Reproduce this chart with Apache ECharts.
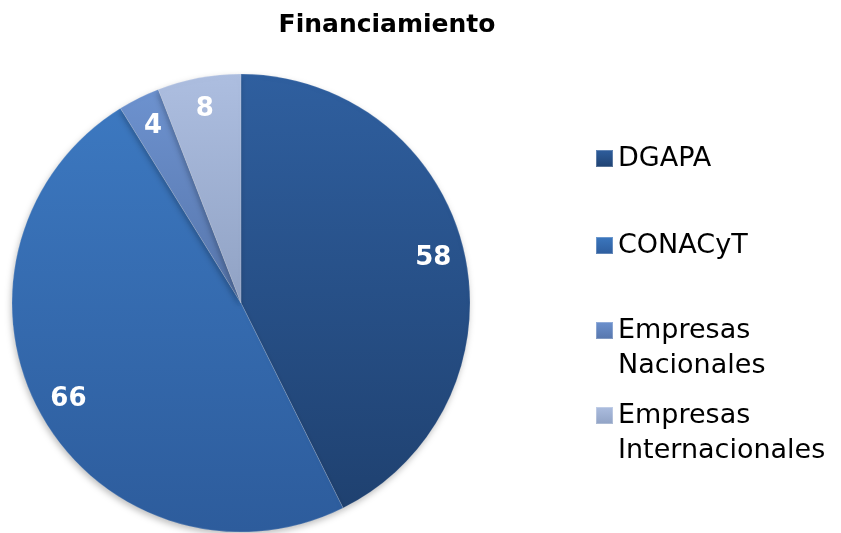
<!DOCTYPE html>
<html>
<head>
<meta charset="utf-8">
<script src="https://cdn.jsdelivr.net/npm/echarts@6/dist/echarts.min.js"></script>
<style>
  html, body { margin: 0; padding: 0; background: #fff; }
  #main { width: 841px; height: 533px; }
</style>
</head>
<body>
<div id="main"></div>
<script>
// datos
const categorias = ['DGAPA', 'CONACyT', 'Empresas Nacionales', 'Empresas Internacionales'];
const etiquetas = ['DGAPA', 'CONACyT', '\nEmpresas\nNacionales', '\nEmpresas\nInternacionales'];
const valores = [58, 66, 4, 8];

// degradados de cada sector (arriba claro, abajo oscuro)
const colores = [
  ['#2f5f9f', '#1f4170'],
  ['#3c78c0', '#2d5c9c'],
  ['#6d92cf', '#5675ab'],
  ['#adbee0', '#90a2c4']
];

function grad (c) {
  return new echarts.graphic.LinearGradient(0, 0, 0, 1, [
    { offset: 0, color: c[0] },
    { offset: 1, color: c[1] }
  ]);
}

const chart = echarts.init(document.getElementById('main'));

const legendTops = [141, 228, 278, 363];
const FONT = 'DejaVu Sans';

const legends = categorias.map((name, i) => ({
  data: [name],
  left: 595,
  top: legendTops[i],
  padding: 0,
  itemWidth: 17,
  itemHeight: 17,
  icon: 'rect',
  selectedMode: false,
  formatter: () => etiquetas[i],
  textStyle: {
    fontFamily: FONT,
    fontSize: 27,
    color: '#000',
    lineHeight: 35
  }
}));

const datos = categorias.map((name, i) => ({
  name: name,
  value: valores[i],
  itemStyle: { color: grad(colores[i]) }
}));

chart.setOption({
  animation: false,
  title: {
    text: 'Financiamiento',
    left: 382,
    top: 8,
    textAlign: 'center',
    textStyle: {
      fontFamily: FONT,
      fontWeight: 'bold',
      fontSize: 25,
      color: '#000'
    }
  },
  legend: legends,
  series: [
    {
      type: 'pie',
      center: [241, 303],
      radius: [0, 229],
      startAngle: 90,
      clockwise: true,
      label: { show: false },
      labelLine: { show: false },
      emphasis: { disabled: true },
      itemStyle: {
        borderColor: 'rgba(255,255,255,0.25)',
        borderWidth: 0.6,
        shadowBlur: 6,
        shadowOffsetX: -1,
        shadowOffsetY: 3,
        shadowColor: 'rgba(0,0,0,0.25)'
      },
      data: datos
    },
    {
      // serie invisible solo para colocar las etiquetas cerca del borde
      type: 'pie',
      center: [241, 303],
      radius: [160, 229],
      startAngle: 90,
      clockwise: true,
      silent: true,
      legendHoverLink: false,
      itemStyle: { color: 'rgba(0,0,0,0)' },
      label: {
        show: true,
        position: 'inside',
        formatter: '{c}',
        fontFamily: FONT,
        fontWeight: 'bold',
        fontSize: 26,
        color: '#fff'
      },
      labelLine: { show: false },
      emphasis: { disabled: true },
      data: categorias.map((name, i) => ({ name: name, value: valores[i] }))
    }
  ]
});
</script>
</body>
</html>
